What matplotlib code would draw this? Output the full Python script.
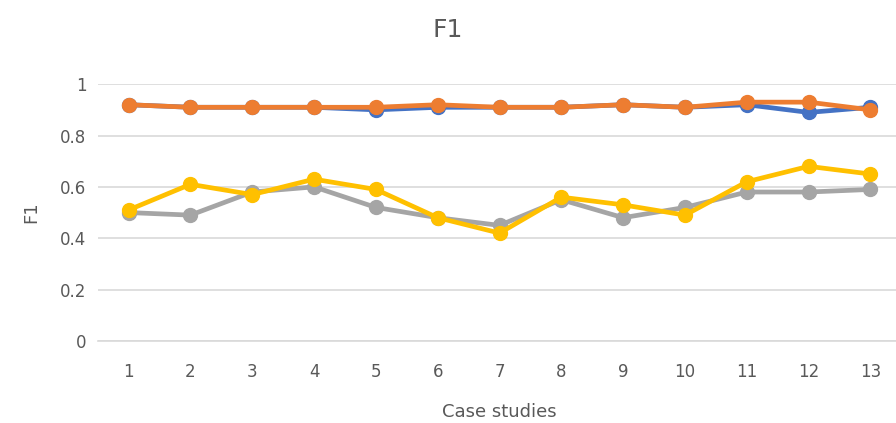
import matplotlib.pyplot as plt

cases = list(range(1, 14))
blue = [0.92, 0.91, 0.91, 0.91, 0.90, 0.91, 0.91, 0.91, 0.92, 0.91, 0.92, 0.89, 0.91]
orange = [0.92, 0.91, 0.91, 0.91, 0.91, 0.92, 0.91, 0.91, 0.92, 0.91, 0.93, 0.93, 0.90]
gray = [0.50, 0.49, 0.58, 0.60, 0.52, 0.48, 0.45, 0.55, 0.48, 0.52, 0.58, 0.58, 0.59]
yellow = [0.51, 0.61, 0.57, 0.63, 0.59, 0.48, 0.42, 0.56, 0.53, 0.49, 0.62, 0.68, 0.65]

series = [
    (blue, "#4472C4"),
    (orange, "#ED7D31"),
    (gray, "#A5A5A5"),
    (yellow, "#FFC000"),
]

fig = plt.figure(figsize=(8.96, 4.23), dpi=100)
ax = fig.add_axes([0.109, 0.194, 0.897, 0.607])

for vals, c in series:
    ax.plot(cases, vals, color=c, lw=3.4, marker="o", markersize=10,
            solid_capstyle="round", solid_joinstyle="round", zorder=3)

ax.set_xlim(0.5, 13.5)
ax.set_ylim(0, 1)
ax.set_yticks([0, 0.2, 0.4, 0.6, 0.8, 1])
ax.set_yticklabels(["0", "0.2", "0.4", "0.6", "0.8", "1"])
ax.set_xticks(cases)
ax.grid(axis="y", color="#D9D9D9", lw=1.2)
ax.set_axisbelow(True)
for s in ["top", "right", "left"]:
    ax.spines[s].set_visible(False)
ax.spines["bottom"].set_color("#D9D9D9")
ax.spines["bottom"].set_linewidth(1.2)
ax.tick_params(length=0, labelsize=12, colors="#595959")
ax.tick_params(axis="x", pad=16)
ax.tick_params(axis="y", pad=8)

ax.set_xlabel("Case studies", fontsize=13, color="#595959", labelpad=16)
ax.set_ylabel("F1", fontsize=13, color="#595959", labelpad=14)
fig.text(0.5, 0.93, "F1", ha="center", va="center", fontsize=18, color="#595959")

fig.savefig("out.png", dpi=100)
